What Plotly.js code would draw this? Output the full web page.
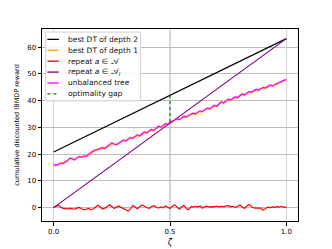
<!DOCTYPE html>
<html>
<head>
<meta charset="utf-8">
<script src="https://cdn.plot.ly/plotly-3.0.1.min.js"></script>
<style>html,body{margin:0;padding:0;background:#fff;}#chart{width:332px;height:249px;}</style>
</head>
<body>
<div id="chart"></div>
<script>
// zeta grid: 0.00 .. 1.00 step 0.01
const zeta = Array.from({length: 101}, (_, i) => i / 100);
const lineZeta = [0, 1];
const depth2Values = [20.8, 63.2];
const repeatAlValues = [0.0, 63.2];
const depth1Values = [15.8,15.6,16.0,16.4,16.7,17.2,17.8,18.4,18.5,17.9,
18.3,18.9,18.7,19.1,19.0,19.6,20.3,21.0,21.4,21.5,
21.8,22.2,22.0,22.6,23.2,23.9,23.6,23.4,23.9,24.4,
25.0,24.8,25.3,26.0,25.8,26.2,27.0,26.7,27.2,28.1,
27.8,28.3,29.0,28.7,29.3,30.2,29.9,30.5,31.1,31.0,
31.7,32.1,32.6,33.0,32.8,33.3,33.9,33.7,34.3,34.8,
35.0,34.8,35.5,35.9,35.7,36.4,37.0,36.7,37.3,38.0,
37.7,38.6,39.3,38.9,39.8,40.3,40.0,40.5,41.2,40.9,
41.5,42.3,41.9,42.6,43.2,42.9,43.6,44.0,43.7,44.3,
44.7,44.5,45.1,45.6,45.3,45.9,46.2,46.6,47.1,47.4,47.6];
const unbalancedValues = [16.2,15.9,16.3,16.6,16.4,17.0,17.5,18.6,18.2,17.8,
18.7,19.2,18.9,19.4,19.3,19.8,20.6,21.3,21.6,21.9,
22.1,22.5,22.2,22.9,23.5,24.3,23.8,23.6,24.2,24.7,
25.3,25.0,25.6,26.3,26.0,26.5,27.3,26.9,27.5,28.4,
28.0,28.6,29.3,28.9,29.6,30.5,30.1,30.8,31.4,31.2,
32.0,32.4,32.9,33.3,33.0,33.6,34.2,34.0,34.6,35.0,
35.3,35.1,35.8,36.2,36.0,36.7,37.3,37.0,37.6,38.3,
38.0,38.9,39.6,39.2,40.1,40.6,40.3,40.8,41.5,41.2,
41.8,42.6,42.2,42.9,43.5,43.2,43.9,44.3,44.0,44.6,
45.0,44.8,45.4,45.9,45.6,46.2,46.5,46.9,47.4,47.7,47.9];
const repeatAValues = [0.1,0.6,0.9,0.2,-0.3,-0.4,-0.5,-0.3,-0.4,-0.6,
-0.2,0.1,-0.4,-0.8,-0.6,-0.3,-0.7,-0.5,0.2,0.9,
0.3,-0.5,-0.2,0.5,1.1,0.4,-0.3,0.2,0.6,0.1,
-0.4,-0.6,-1.3,-0.5,0.8,0.2,-0.4,0.3,1.0,0.5,
0.1,-0.3,0.4,0.7,0.2,-0.2,0.3,-0.1,0.6,0.2,
-0.3,0.5,1.1,0.2,-0.6,0.3,0.9,-0.3,-0.8,0.4,
0.2,0.5,0.3,0.6,-0.2,0.4,0.5,0.2,0.4,0.3,
0.6,0.3,0.5,0.4,0.6,0.8,0.3,0.5,0.1,0.4,
1.0,0.5,-0.3,0.6,1.2,0.4,-0.1,-0.2,-0.3,-0.2,
-1.0,-0.3,0.2,0.0,0.3,0.1,0.4,0.2,0.5,0.1,0.2];
const gapZeta = [0.5, 0.5];
const gapValues = [32.0, 42.0];
const xTicks = [0, 0.5, 1];
const xTickLabels = ['0.0', '0.5', '1.0'];
const yTicks = [0, 10, 20, 30, 40, 50, 60];
const seriesNames = ['best DT of depth 2', 'best DT of depth 1', 'repeat <i>a</i> ∈ 𝒜',
  'repeat <i>a</i> ∈ 𝒜<sub><i>l</i></sub>', 'unbalanced tree', 'optimality gap'];

const styles = [
  {color: 'black', width: 1.2},
  {color: 'orange', width: 1.2},
  {color: 'red', width: 1.2},
  {color: 'purple', width: 1.2},
  {color: 'magenta', width: 1.2},
  {color: 'green', width: 1.2, dash: 'dot'}
];
const xs = [lineZeta, zeta, zeta, lineZeta, zeta, gapZeta];
const ys = [depth2Values, depth1Values, repeatAValues, repeatAlValues, unbalancedValues, gapValues];
// draw order: black, orange, red, purple, magenta, green gap
const traces = xs.map((x, i) => ({x: x, y: ys[i], name: seriesNames[i], mode: 'lines', line: styles[i], showlegend: false}));

// custom matplotlib-like legend (paper coordinates)
const lg = {x0: 0.0145, x1: 0.385, yTop: 0.984, yBot: 0.626, lx0: 0.021, lx1: 0.066, tx: 0.092, rowTop: 0.946, rowStep: 0.0568};
const shapes = [{type: 'rect', xref: 'paper', yref: 'paper', x0: lg.x0, x1: lg.x1, y0: lg.yBot, y1: lg.yTop,
  line: {color: '#d0d0d0', width: 1}, fillcolor: 'rgba(255,255,255,0.85)', layer: 'above'}];
const annotations = [];
seriesNames.forEach((n, i) => {
  const yy = lg.rowTop - i * lg.rowStep;
  shapes.push({type: 'line', xref: 'paper', yref: 'paper', x0: lg.lx0, x1: lg.lx1, y0: yy, y1: yy,
    line: Object.assign({}, styles[i], {width: 1.3}), layer: 'above'});
  annotations.push({xref: 'paper', yref: 'paper', x: lg.tx, y: yy, text: n, showarrow: false,
    xanchor: 'left', yanchor: 'middle', font: {size: 7.5, color: '#111'}});
});

const layout = {
  width: 332, height: 249,
  margin: {l: 42, r: 34, t: 29, b: 28},
  paper_bgcolor: 'white', plot_bgcolor: 'white',
  font: {family: 'DejaVu Sans', size: 7, color: 'black'},
  showlegend: false,
  shapes: shapes, annotations: annotations,
  xaxis: {range: [-0.05, 1.05], tickvals: xTicks, ticktext: xTickLabels, showgrid: true, gridcolor: '#d6d6d6', gridwidth: 1.5,
    zeroline: false, showline: true, mirror: true, linecolor: 'black', linewidth: 1, ticks: 'outside', ticklen: 3.5, tickcolor: 'black',
    title: {text: '<i>ζ</i>', font: {size: 8}, standoff: 4}},
  yaxis: {range: [-5, 66.8], tickvals: yTicks, showgrid: true, gridcolor: '#bdbdbd', gridwidth: 1,
    zeroline: false, showline: true, mirror: true, linecolor: 'black', linewidth: 1, ticks: 'outside', ticklen: 3.5, tickcolor: 'black',
    title: {text: 'cumulative discounted IBMDP reward', font: {size: 6.5}, standoff: 6}}
};

Plotly.newPlot('chart', traces, layout, {displayModeBar: false, staticPlot: true});
</script>
</body>
</html>
